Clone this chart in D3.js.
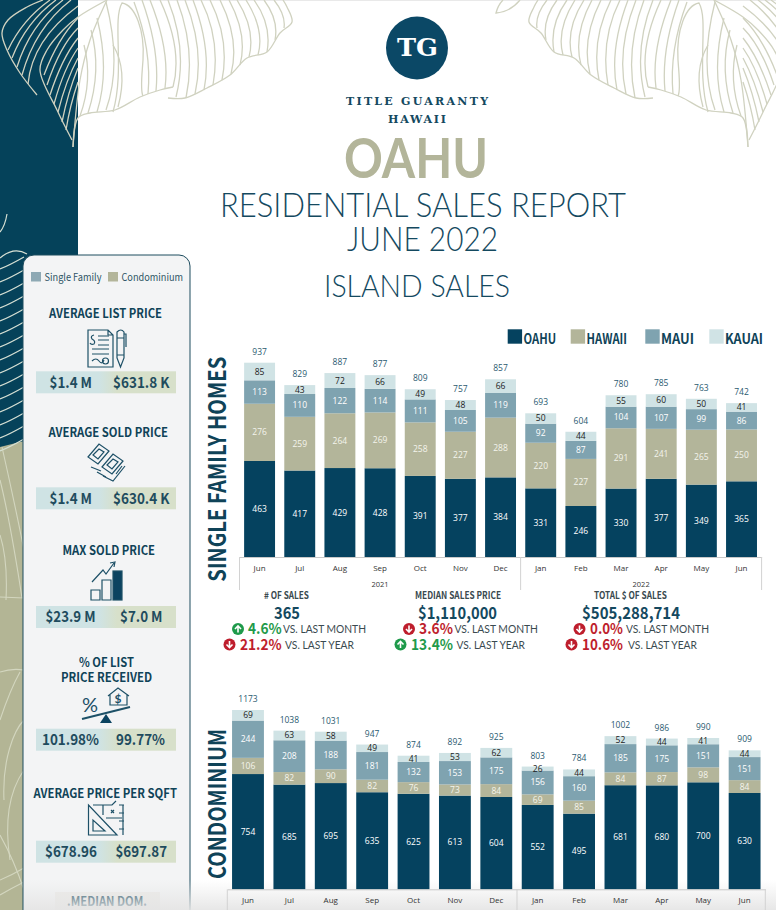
<!DOCTYPE html>
<html>
<head>
<meta charset="utf-8">
<script src="https://cdn.jsdelivr.net/npm/d3@7"></script>
<style>
body { margin: 0; background: #fff; }
svg { display: block; }
text { font-family: Lato, "Noto Sans", sans-serif; }
</style>
</head>
<body>
<svg id="page" width="776" height="910"></svg>
<script>
// values
var months = ["Jun", "Jul", "Aug", "Sep", "Oct", "Nov", "Dec", "Jan", "Feb", "Mar", "Apr", "May", "Jun"];
var islands = ["OAHU", "HAWAII", "MAUI", "KAUAI"];
var islandColors = ["#05425f", "#b3b59a", "#7fa3b0", "#d0e3e5"];

var sfOahu = [463, 417, 429, 428, 391, 377, 384, 331, 246, 330, 377, 349, 365];
var sfHawaii = [276, 259, 264, 269, 258, 227, 288, 220, 227, 291, 241, 265, 250];
var sfMaui = [113, 110, 122, 114, 111, 105, 119, 92, 87, 104, 107, 99, 86];
var sfKauai = [85, 43, 72, 66, 49, 48, 66, 50, 44, 55, 60, 50, 41];
var sfTotals = [937, 829, 887, 877, 809, 757, 857, 693, 604, 780, 785, 763, 742];

var condoOahu = [754, 685, 695, 635, 625, 613, 604, 552, 495, 681, 680, 700, 630];
var condoHawaii = [106, 82, 90, 82, 76, 73, 84, 69, 85, 84, 87, 98, 84];
var condoMaui = [244, 208, 188, 181, 132, 153, 175, 156, 160, 185, 175, 151, 151];
var condoKauai = [69, 63, 58, 49, 41, 53, 62, 26, 44, 52, 44, 41, 44];
var condoTotals = [1173, 1038, 1031, 947, 874, 892, 925, 803, 784, 1002, 986, 990, 909];

var yearLabels = ["2021", "2022"];
var yearFirstMonth = [0, 7]; // index of the first month in each year

var navy = "#0f4358";
var sans = "'Noto Sans CJK SC', 'Noto Sans', sans-serif";
var svg = d3.select("#page");
var defs = svg.append("defs");

var boxGrad = defs.append("linearGradient").attr("id", "boxGrad");
boxGrad.append("stop").attr("offset", "0").attr("stop-color", "#cfe3e4");
boxGrad.append("stop").attr("offset", "0.45").attr("stop-color", "#cfe3e4");
boxGrad.append("stop").attr("offset", "0.58").attr("stop-color", "#d7e0ca");
boxGrad.append("stop").attr("offset", "1").attr("stop-color", "#d7e0ca");

var fadeGrad = defs.append("linearGradient").attr("id", "fadeGrad").attr("x1", 0).attr("x2", 0).attr("y1", 0).attr("y2", 1);
fadeGrad.append("stop").attr("offset", "0").attr("stop-color", "#e6e6e6").attr("stop-opacity", 0);
fadeGrad.append("stop").attr("offset", "1").attr("stop-color", "#e4e4e4").attr("stop-opacity", 0.9);

// text squeezed to the width it has in the report
function fit(g, str, x0, x1, y, size, weight, color, family, adjust) {
    var t = g.append("text").attr("x", x0).attr("y", y)
        .attr("font-size", size).attr("font-weight", weight).attr("fill", color)
        .attr("textLength", x1 - x0).attr("lengthAdjust", adjust || "spacingAndGlyphs")
        .text(str);
    if (family) t.style("font-family", family);
    return t;
}

var line = d3.line().curve(d3.curveCatmullRom.alpha(0.5));

// ---------- background ----------
var bg = svg.append("g");
bg.append("rect").attr("x", 0).attr("y", 0).attr("width", 78).attr("height", 447).attr("fill", "#05425a");
bg.append("path").attr("d", "M0,447 Q12,444 24,441 L24,910 L0,910 Z").attr("fill", "#b3b595");
bg.append("line").attr("x1", 78).attr("x2", 776).attr("y1", 0.5).attr("y2", 0.5).attr("stroke", "#e9e9e9");

// top leaf, left version. The right one is the same leaf flipped.
var lobeA = [[73, 147], [78, 118], [90, 113], [115, 110], [140, 97], [160, 90], [173, 87]];
var lobeB = [[168, 98], [185, 98], [207, 88], [230, 75], [247, 58], [267, 52], [280, 33], [292, 22], [287, 7], [283, 0]];
var darkA = [[37, 95], [20, 73], [7, 50], [2, 33], [8, 20], [27, 7], [43, 0]];
var darkB = [[72, 140], [57, 110], [40, 70], [47, 50], [63, 30], [78, 17], [107, 0]];
var midrib = [[73, 147], [80, 80], [90, 40], [107, 0]];

var veinsA = [[80, 116, 93, 80, 84, 45], [88, 113, 102, 70, 91, 30], [97, 112, 110, 70, 97, 18], [106, 110, 122, 65, 106, 2],
              [118, 107, 128, 70, 113, 45], [148, 94, 152, 50, 134, 2], [156, 91, 160, 50, 142, 0], [165, 88, 170, 50, 150, 0],
              [173, 87, 183, 50, 160, 0]];
var veinsB = [[176, 97, 188, 50, 168, 0], [186, 98, 196, 50, 177, 0], [195, 94, 205, 50, 185, 0], [204, 90, 212, 50, 193, 0],
              [213, 85, 221, 40, 201, 0], [222, 80, 230, 40, 210, 0], [231, 74, 240, 40, 220, 0], [240, 65, 248, 35, 229, 0],
              [249, 57, 256, 30, 237, 0], [258, 55, 265, 30, 246, 0], [267, 52, 272, 25, 254, 0], [275, 40, 279, 20, 264, 0], [284, 28, 286, 15, 274, 0]];
var veinsDark = [[8, 50, 22, 20, 50, 0], [12, 58, 26, 22, 56, 0], [17, 67, 30, 25, 63, 0], [22, 75, 35, 28, 71, 0], [28, 84, 32, 40, 78, 6],
                 [44, 75, 58, 38, 78, 18], [47, 85, 60, 46, 78, 28], [50, 95, 62, 58, 78, 38], [54, 104, 64, 68, 78, 48],
                 [58, 112, 66, 80, 78, 58], [62, 122, 68, 92, 78, 68], [66, 130, 70, 105, 78, 82]];

function drawLeaf(g) {
    g.attr("fill", "none").attr("stroke", "#d0d2c0").attr("stroke-width", 1.3);
    [lobeA, lobeB, darkA, darkB, midrib].forEach(function(pts) {
        g.append("path").attr("d", line(pts));
    });
    veinsA.concat(veinsB).concat(veinsDark).forEach(function(v) {
        g.append("path").attr("d", "M" + v[0] + "," + v[1] + " Q" + v[2] + "," + v[3] + " " + v[4] + "," + v[5]);
    });
    // inner oval near the rib
    g.append("path").attr("d", "M113,112 C125,70 112,20 122,3 C135,5 145,30 143,60 C142,75 140,90 143,96");
}
drawLeaf(bg.append("g"));
drawLeaf(bg.append("g").attr("transform", "translate(821,0) scale(-1,1)"));
bg.append("path").attr("d", "M520,0 Q510,12 496,13 Q498,5 503,0").attr("fill", "none").attr("stroke", "#d0d2c0").attr("stroke-width", 1.3);

// leaf lines down the left strip
var strip = bg.append("g").attr("fill", "none").attr("stroke", "#d6e0d4").attr("stroke-width", 1.2);
strip.append("path").attr("d", "M0,232 Q5,226 7,214");
strip.append("path").attr("d", "M0,258 Q14,246 27,254");
d3.range(262, 445, 13).forEach(function(y) {
    strip.append("path").attr("d", "M0," + (y + 7) + " Q10," + (y + 3) + " 24," + (y - 5));
});
var olive = bg.append("g").attr("fill", "none").attr("stroke", "#d3d6bf").attr("stroke-width", 1.1);
olive.append("path").attr("d", "M2,447 Q14,500 24,550");
olive.append("path").attr("d", "M0,480 Q10,520 22,598");
olive.append("path").attr("d", "M0,535 Q8,560 6,600");
olive.append("path").attr("d", "M0,597 L24,598");
olive.append("path").attr("d", "M0,672 Q12,668 24,670");
olive.append("path").attr("d", "M0,720 Q10,690 20,672");
olive.append("path").attr("d", "M4,800 C2,760 14,730 24,720");
olive.append("path").attr("d", "M10,860 C4,820 10,790 24,770");
olive.append("path").attr("d", "M0,835 Q14,860 24,890");
olive.append("path").attr("d", "M0,880 Q12,875 24,868");
olive.append("path").attr("d", "M0,895 Q12,888 24,882");

// ---------- header ----------
var head = svg.append("g");
head.append("ellipse").attr("cx", 417).attr("cy", 48).attr("rx", 31).attr("ry", 31.5).attr("fill", "#0b4866");
fit(head, "TG", 397, 438, 56, 24, 700, "#fff", "'DejaVu Serif', serif");
fit(head, "TITLE GUARANTY", 346, 488, 105, 11, 700, "#14495f", "'DejaVu Serif', serif", "spacing");
fit(head, "HAWAII", 388, 446, 123, 11, 700, "#14495f", "'DejaVu Serif', serif", "spacing");
fit(head, "OAHU", 344, 488, 178, 56, 700, "#b3b59a");
fit(head, "RESIDENTIAL SALES REPORT", 220, 626, 217, 33, 300, "#14495f");
fit(head, "JUNE 2022", 347, 498, 251, 33, 300, "#14495f");
fit(head, "ISLAND SALES", 324, 510, 297, 31, 300, "#14495f");

// ---------- sidebar ----------
var side = svg.append("g");
side.append("rect").attr("x", 23).attr("y", 255).attr("width", 167).attr("height", 700).attr("rx", 11)
    .attr("fill", "#f3f4f5").attr("stroke", "#1d4c5e").attr("stroke-width", 1);
side.append("rect").attr("x", 31).attr("y", 272).attr("width", 10).attr("height", 9.5).attr("fill", "#8ea9b4");
side.append("rect").attr("x", 108).attr("y", 272).attr("width", 10).attr("height", 9.5).attr("fill", "#b3b59a");
fit(side, "Single Family", 44.5, 101.5, 280.7, 10.5, 400, "#2e5565", sans);
fit(side, "Condominium", 121.5, 183, 280.7, 10.5, 400, "#2e5565", sans);

var titles = ["AVERAGE LIST PRICE", "AVERAGE SOLD PRICE", "MAX SOLD PRICE", "% OF LIST", "PRICE RECEIVED", "AVERAGE PRICE PER SQFT"];
var titleX = [[49, 162], [48.5, 168], [62.5, 155], [79, 134], [61, 152], [33.5, 177]];
var titleY = [317.5, 437.3, 555, 666.7, 681.7, 797.7];
titles.forEach(function(t, i) {
    fit(side, t, titleX[i][0], titleX[i][1], titleY[i], 12.5, 700, navy, sans);
});

var singleValues = ["$1.4 M", "$1.4 M", "$23.9 M", "101.98%", "$678.96"];
var condoValues = ["$631.8 K", "$630.4 K", "$7.0 M", "99.77%", "$697.87"];
var singleX = [[49.5, 92], [49.5, 92], [45.5, 95.5], [42, 99], [45, 97]];
var condoX = [[113, 169.5], [113, 169.5], [120, 162.5], [116, 165], [115.5, 167]];
var boxY = [371.3, 487.3, 606, 728.7, 840.7];
boxY.forEach(function(y, i) {
    side.append("rect").attr("x", 36).attr("y", y).attr("width", 140).attr("height", 22).attr("fill", "url(#boxGrad)");
    fit(side, singleValues[i], singleX[i][0], singleX[i][1], y + 16.2, 15, 700, "#1f4c5e", sans);
    fit(side, condoValues[i], condoX[i][0], condoX[i][1], y + 16.2, 15, 700, "#1f4c5e", sans);
});

// median DOM box is cut by the page edge
side.append("rect").attr("x", 55).attr("y", 892).attr("width", 105).attr("height", 18).attr("fill", "#ecebe8");
fit(side, ".MEDIAN DOM.", 67, 147, 905.7, 12.5, 700, navy, sans);

// icons
var ic = side.append("g").attr("fill", "none").attr("stroke", "#1d5067").attr("stroke-width", 1.2);
// list price: document and pen
ic.append("path").attr("d", "M88,330 H108 L113,335 V367 H88 Z M108,330 V335 H113");
ic.append("path").attr("d", "M98,336 H109 M98,340 H109 M98,345 H109 M92,349 H109 M92,354 H109 M92,361 Q96,357 99,361 T104,360");
ic.append("path").attr("d", "M94,335 Q90,336 92,339 Q96,341 94,344 Q91,345 90,343");
ic.append("circle").attr("cx", 105.5).attr("cy", 361).attr("r", 3);
ic.append("path").attr("d", "M117,332 Q121,328 124,332 V358 L120.5,367 L117,358 Z M117,338 H124 M117,355 H124 M124,334 H126 V347");
// sold price: stacked bills
[[0, 0], [14, 10]].forEach(function(o) {
    var b = ic.append("g").attr("transform", "translate(" + o[0] + "," + o[1] + ")");
    b.append("path").attr("d", "M88,457 L99,444 L109,451 L98,464 Z");
    b.append("path").attr("d", "M93,455 L99,449 L104,452 L98,459 Z");
});
ic.append("path").attr("d", "M91,467 L101,471 M103,476 L113,481 L125,466 M97,472 L106,477 M116,474 L122,466");
// max sold price: bars with arrow
ic.append("path").attr("d", "M91,590 H100 V600 H91 Z M102,580 H111 V600 H102 Z");
ic.append("rect").attr("x", 113).attr("y", 571).attr("width", 9).attr("height", 29).attr("fill", "#0b4360");
ic.append("path").attr("d", "M92,582 L103,570 L106,574 L114,563 M110,563 L115,562 L114,567");
// % received: seesaw
ic.append("path").attr("d", "M82,719 L130,707").attr("stroke-width", 2);
ic.append("path").attr("d", "M106,714 L112,723 H100 Z").attr("fill", "#0b4360").attr("stroke", "none");
ic.append("path").attr("d", "M108,696 L118,688 L129,696 M110,695 V705 H127 V695");
side.append("text").attr("x", 90).attr("y", 712).attr("text-anchor", "middle").attr("font-size", 20).attr("fill", "#1d5067").text("%");
side.append("text").attr("x", 118).attr("y", 703).attr("text-anchor", "middle").attr("font-size", 12).attr("font-weight", 700).attr("fill", "#1d5067").text("$");
// price per sqft: set square and plan
ic.append("path").attr("d", "M88.5,805 V835 H117 Z M93,820 V831 H105 Z");
ic.append("path").attr("d", "M93,805 H112 L116,801 M103,805 V815 M106,818 H122 M123,805 V835 M119,805 H124 M119,813 H124 M119,821 H124 M119,829 H124");
ic.append("path").attr("d", "M111,810 L114,813 M114,810 L111,813");

// page fades to grey at the very bottom, behind the chart
svg.append("rect").attr("x", 24).attr("y", 880).attr("width", 752).attr("height", 30).attr("fill", "url(#fadeGrad)");

// ---------- charts ----------
function drawChart(cfg) {
    var g = svg.append("g");
    var x = d3.scaleBand().domain(d3.range(months.length)).range([cfg.left, cfg.right]).paddingInner(0.23).paddingOuter(0.115);
    var y = d3.scaleLinear().domain([0, d3.max(cfg.totals)]).range([cfg.base, cfg.top]);

    var rows = months.map(function(m, i) {
        var r = { i: i };
        islands.forEach(function(name, k) { r[name] = cfg.series[k][i]; });
        return r;
    });
    var stacked = d3.stack().keys(islands)(rows);

    var layers = g.selectAll("g.layer").data(stacked).enter().append("g").attr("class", "layer")
        .attr("fill", function(d, k) { return islandColors[k]; });
    layers.selectAll("rect").data(function(d) { return d; }).enter().append("rect")
        .attr("x", function(d) { return x(d.data.i); })
        .attr("width", x.bandwidth())
        .attr("y", function(d) { return y(d[1]); })
        .attr("height", function(d) { return y(d[0]) - y(d[1]); });

    layers.each(function(layer, k) {
        d3.select(this).selectAll("text").data(layer).enter().append("text")
            .attr("x", function(d) { return x(d.data.i) + x.bandwidth() / 2; })
            .attr("y", function(d) { return (y(d[0]) + y(d[1])) / 2 + 3; })
            .attr("text-anchor", "middle")
            .attr("font-size", 8.5)
            .attr("font-weight", 500)
            .style("font-family", "'Open Sans', sans-serif")
            .attr("fill", k === 3 ? "#1c1c1c" : (k === 1 ? "#f4f4ec" : "#fff"))
            .text(function(d) { return d[1] - d[0]; });
    });

    g.selectAll("text.total").data(cfg.totals).enter().append("text").attr("class", "total")
        .attr("x", function(d, i) { return x(i) + x.bandwidth() / 2; })
        .attr("y", function(d) { return y(d) - 8; })
        .attr("text-anchor", "middle")
        .attr("font-size", 8.5)
        .style("font-family", "'Open Sans', sans-serif")
        .attr("fill", "#2a5a70")
        .text(function(d) { return d; });

    var axis = d3.axisBottom(x).tickSize(0).tickPadding(cfg.monthPad).tickFormat(function(i) { return months[i]; });
    var ax = g.append("g").attr("transform", "translate(0," + cfg.base + ")").call(axis);
    ax.select(".domain").attr("stroke", "#c9c9c9");
    ax.selectAll("text").attr("font-size", 8).style("font-family", "'Open Sans', sans-serif").attr("fill", "#333");

    // year brackets
    var stepW = x.step();
    var edges = yearFirstMonth.map(function(i) { return cfg.left + i * stepW; }).concat([cfg.right]);
    edges.forEach(function(ex) {
        g.append("line").attr("x1", ex).attr("x2", ex).attr("y1", cfg.base).attr("y2", cfg.base + 33)
            .attr("stroke", "#d2d2d2");
    });
    if (cfg.showYears) { // the lower chart's years fall past the page edge
        yearLabels.forEach(function(label, i) {
            g.append("text").attr("x", (edges[i] + edges[i + 1]) / 2).attr("y", cfg.base + 29.7)
                .attr("text-anchor", "middle").attr("font-size", 7.5)
                .style("font-family", "'Open Sans', sans-serif").attr("fill", "#333").text(label);
        });
    }

    // title runs up the side
    g.append("text")
        .attr("transform", "translate(" + cfg.titleX + "," + cfg.titleBottom + ") rotate(-90)")
        .attr("font-size", 23.5).attr("font-weight", 700).attr("fill", navy)
        .style("font-family", sans)
        .attr("textLength", cfg.titleLen).attr("lengthAdjust", "spacingAndGlyphs")
        .text(cfg.title);
}

drawChart({
    title: "SINGLE FAMILY HOMES", titleX: 226, titleBottom: 581.7, titleLen: 225, showYears: true,
    series: [sfOahu, sfHawaii, sfMaui, sfKauai], totals: sfTotals,
    left: 239.5, right: 761.6, base: 557, top: 362.7, monthPad: 8
});
drawChart({
    title: "CONDOMINIUM", titleX: 226, titleBottom: 879, titleLen: 150, showYears: false,
    series: [condoOahu, condoHawaii, condoMaui, condoKauai], totals: condoTotals,
    left: 227.3, right: 765.3, base: 889.3, top: 710, monthPad: 8
});

// legend
var legendBoxX = [507.7, 570.7, 645.3, 709.3];
var legendTextX = [[523.5, 556], [586.5, 627], [661, 694], [725, 763]];
islands.forEach(function(name, k) {
    svg.append("rect").attr("x", legendBoxX[k]).attr("y", 329.3).attr("width", 14.4).attr("height", 14.4).attr("fill", islandColors[k]);
    fit(svg, name, legendTextX[k][0], legendTextX[k][1], 344, 14, 700, navy, sans);
});

// ---------- stats under first chart ----------
var statTitles = ["# OF SALES", "MEDIAN SALES PRICE", "TOTAL $ OF SALES"];
var statValues = ["365", "$1,110,000", "$505,288,714"];
var statTitleX = [[264, 309], [415, 501], [594, 667]];
var statValueX = [[274, 300], [418, 497], [582, 680]];
var monthPct = ["4.6%", "3.6%", "0.0%"];
var yearPct = ["21.2%", "13.4%", "10.6%"];
var monthUp = [true, false, false];
var yearUp = [false, true, false];
var monthPctX = [[248, 281.7], [419, 453], [590, 623]];
var yearPctX = [[240, 281.7], [411, 453], [582, 623]];
var monthLblX = [[283, 366], [454.5, 538], [626, 709]];
var yearLblX = [[285, 354], [456.6, 525], [628, 697]];
var monthDot = [238, 409, 579.5];
var yearDot = [229.5, 400.5, 571.5];
var green = "#1f9a4b", red = "#be1e2d";

function arrowDot(g, cx, cy, up) {
    var c = g.append("g").attr("transform", "translate(" + cx + "," + cy + ")" + (up ? "" : " rotate(180)"));
    c.append("circle").attr("r", 6).attr("fill", up ? green : red);
    c.append("path").attr("d", "M-3,0 L0,-3.2 L3,0 M0,-3 V3.5").attr("fill", "none").attr("stroke", "#fff").attr("stroke-width", 1.6);
}

var stats = svg.append("g");
statTitles.forEach(function(t, i) {
    fit(stats, t, statTitleX[i][0], statTitleX[i][1], 599, 10, 700, "#3a4a50", sans);
    fit(stats, statValues[i], statValueX[i][0], statValueX[i][1], 619, 16.5, 700, "#14495f", sans);
    arrowDot(stats, monthDot[i], 629, monthUp[i]);
    fit(stats, monthPct[i], monthPctX[i][0], monthPctX[i][1], 634, 15, 700, monthUp[i] ? green : red, sans);
    fit(stats, "VS. LAST MONTH", monthLblX[i][0], monthLblX[i][1], 633, 11.5, 400, "#3a4a50");
    arrowDot(stats, yearDot[i], 644.5, yearUp[i]);
    fit(stats, yearPct[i], yearPctX[i][0], yearPctX[i][1], 650, 15, 700, yearUp[i] ? green : red, sans);
    fit(stats, "VS. LAST YEAR", yearLblX[i][0], yearLblX[i][1], 649, 11.5, 400, "#3a4a50");
});
</script>
</body>
</html>
